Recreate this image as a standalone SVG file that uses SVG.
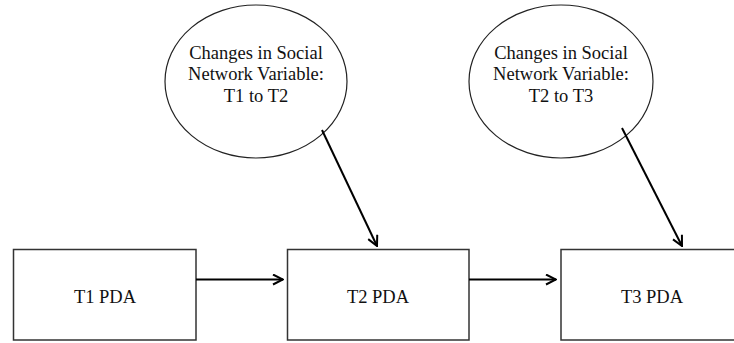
<svg xmlns="http://www.w3.org/2000/svg" width="734" height="343" viewBox="0 0 734 343">
<style>
.box{fill:#fff;stroke:#333;stroke-width:1.5}
.ell{fill:#fff;stroke:#222;stroke-width:1.2}
.t{font-family:"Liberation Serif","Times New Roman",serif;font-size:18.5px;fill:#111;text-anchor:middle}
.c{stroke:#000;stroke-width:2;fill:none}
</style>
<defs>
<marker id="ah" viewBox="0 0 12 12" refX="11" refY="6" markerWidth="12" markerHeight="12" markerUnits="userSpaceOnUse" orient="auto">
<path d="M1,1 L11,6 L1,11" fill="none" stroke="#000" stroke-width="2"/>
</marker>
</defs>
<g id="e1">
<ellipse class="ell" cx="256" cy="81.5" rx="91" ry="76.5"/>
<text class="t" x="256" y="59">Changes in Social</text>
<text class="t" x="256" y="80">Network Variable:</text>
<text class="t" x="256" y="101.5">T1 to T2</text>
</g>
<g id="e2">
<ellipse class="ell" cx="561" cy="81.5" rx="92" ry="76.5"/>
<text class="t" x="561" y="59">Changes in Social</text>
<text class="t" x="561" y="80">Network Variable:</text>
<text class="t" x="561" y="101.5">T2 to T3</text>
</g>
<g id="b1">
<rect class="box" x="13.5" y="249.5" width="182.5" height="90.5"/>
<text class="t" x="105" y="302.5">T1 PDA</text>
</g>
<g id="b2">
<rect class="box" x="287.5" y="249.5" width="181.5" height="90.5"/>
<text class="t" x="378" y="302.5">T2 PDA</text>
</g>
<g id="b3">
<rect class="box" x="561" y="249.5" width="180" height="90.5"/>
<text class="t" x="652" y="302.5">T3 PDA</text>
</g>
<g id="connectors">
<line class="c" x1="196" y1="279.5" x2="283" y2="279.5" marker-end="url(#ah)"/>
<line class="c" x1="469" y1="279.5" x2="556" y2="279.5" marker-end="url(#ah)"/>
<line class="c" x1="322" y1="130" x2="377" y2="246" marker-end="url(#ah)"/>
<line class="c" x1="622" y1="128" x2="682" y2="246" marker-end="url(#ah)"/>
</g>
</svg>
